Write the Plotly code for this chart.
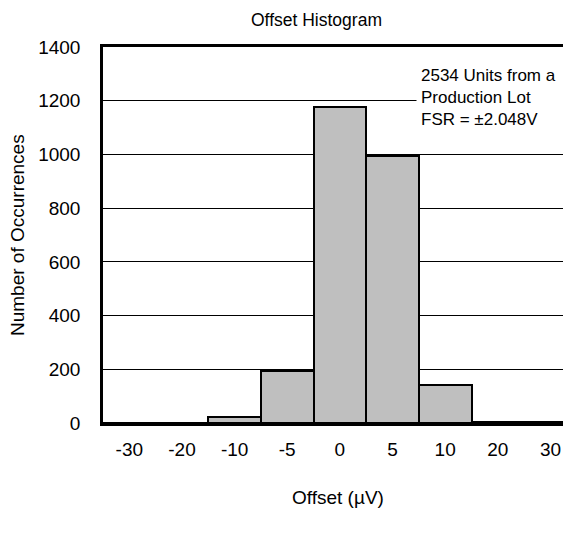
import plotly.graph_objects as go

categories = ["-30", "-20", "-10", "-5", "0", "5", "10", "20", "30"]
counts = [0, 0, 23, 194, 1176, 994, 141, 3, 3]
y_ticks = [0, 200, 400, 600, 800, 1000, 1200, 1400]

OFF = 8  # page body margin
W, H = 571 - OFF, 533 - OFF
L, R, T, B = 103 - OFF, 0, 47 - OFF, 110
FONT = "Liberation Sans, Arial, sans-serif"

fig = go.Figure(go.Bar(
    x=categories, y=counts,
    marker=dict(color="#bfbfbf", line=dict(color="black", width=2)),
))

fig.update_layout(
    width=W, height=H,
    margin=dict(l=L, r=R, t=T, b=B),
    paper_bgcolor="white", plot_bgcolor="white",
    bargap=0, showlegend=False,
    font=dict(family=FONT, color="black", size=19),
    xaxis=dict(type="category", categoryorder="array", categoryarray=categories,
               range=[-0.5, 8.39],
               showline=True, linecolor="black", linewidth=2.5, mirror=True,
               showgrid=False, ticks="", ticklabelstandoff=7,
               tickfont=dict(size=19)),
    yaxis=dict(range=[0, 1400], tickvals=y_ticks, showline=True, linecolor="black",
               linewidth=2.5, showgrid=True, gridcolor="black", gridwidth=1,
               ticks="", ticklabelstandoff=16, zeroline=False,
               tickfont=dict(size=19)),
)

def px_x(p):
    return (p - OFF - L) / (W - L - R)

def px_y(p):
    return 1 - (p - OFF - T) / (H - T - B)

fig.add_annotation(x=px_x(316), y=px_y(20), xref="paper", yref="paper",
                   text="Offset Histogram", showarrow=False,
                   font=dict(size=17.5), xanchor="center", yanchor="middle")
fig.add_annotation(x=px_x(338), y=px_y(497), xref="paper", yref="paper",
                   text="Offset (µV)", showarrow=False,
                   font=dict(size=19), xanchor="center", yanchor="middle")
fig.add_annotation(x=px_x(17), y=px_y(235), xref="paper", yref="paper",
                   text="Number of Occurrences", showarrow=False, textangle=-90,
                   font=dict(size=19), xanchor="center", yanchor="middle")
fig.add_annotation(x=px_x(416), y=px_y(97), xref="paper", yref="paper",
                   text="2534 Units from a<br>Production Lot<br>FSR = ±2.048V",
                   showarrow=False, align="left", xanchor="left", yanchor="middle",
                   bgcolor="white", borderpad=4, width=145,
                   font=dict(size=17))

fig.write_html("out.html")
